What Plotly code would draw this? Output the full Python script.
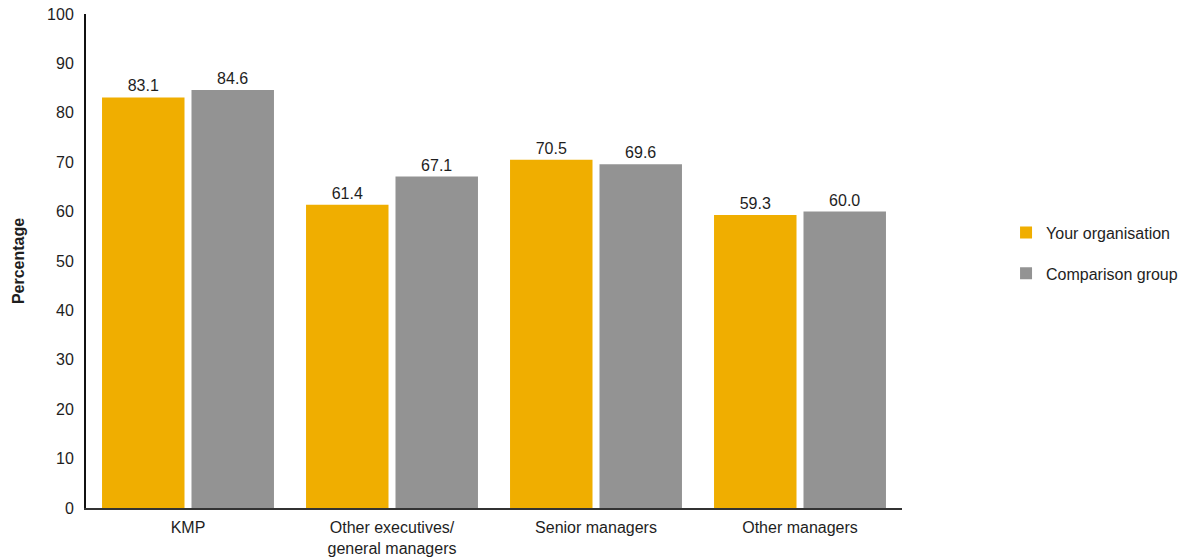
import plotly.graph_objects as go

# Share of employees by level: organisation vs comparison group
categories = ["KMP", "Other executives/<br>general managers", "Senior managers", "Other managers"]
your_org = [83.1, 61.4, 70.5, 59.3]
comparison = [84.6, 67.1, 69.6, 60.0]
y_ticks = [0, 10, 20, 30, 40, 50, 60, 70, 80, 90, 100]

YELLOW = "#F0AE00"
GREY = "#939393"
FONT = "Liberation Sans, Arial, sans-serif"
TXT = "#1e1e1e"
FS = 16

fig = go.Figure()
fig.add_trace(go.Bar(
    x=categories, y=your_org, name="Your organisation",
    marker=dict(color=YELLOW, line=dict(width=0)),
    text=[f"{v:.1f}" for v in your_org], textposition="outside",
    textfont=dict(family=FONT, size=FS, color=TXT),
    cliponaxis=False, legendgroup="a",
))
fig.add_trace(go.Bar(
    x=categories, y=comparison, name="Comparison group",
    marker=dict(color=GREY, line=dict(width=0)),
    text=[f"{v:.1f}" for v in comparison], textposition="outside",
    textfont=dict(family=FONT, size=FS, color=TXT),
    cliponaxis=False, legendgroup="b",
))

fig.update_layout(
    width=1200, height=558,
    margin=dict(l=86, r=298, t=14, b=50),
    paper_bgcolor="white", plot_bgcolor="white",
    barmode="group", bargap=0.123, bargroupgap=0.078,
    font=dict(family=FONT, size=FS, color=TXT),
    showlegend=True,
    legend=dict(
        x=1.1275, xanchor="left", y=0.516, yanchor="middle",
        font=dict(family=FONT, size=FS, color=TXT),
        tracegroupgap=17, bgcolor="rgba(0,0,0,0)",
    ),
    xaxis=dict(
        automargin=False,
        showline=True, linecolor="#333333", linewidth=2,
        ticks="", showgrid=False, zeroline=False,
        tickfont=dict(family=FONT, size=FS, color=TXT),
        ticklabelstandoff=4,
    ),
    yaxis=dict(
        automargin=False,
        range=[0, 100], tickvals=y_ticks,
        showline=True, linecolor="#111111", linewidth=2,
        ticks="", showgrid=False, zeroline=False,
        tickfont=dict(family=FONT, size=FS, color=TXT),
        ticklabelstandoff=7,
        title=dict(text="<b>Percentage</b>", font=dict(family=FONT, size=16, color=TXT), standoff=18),
    ),
)

fig.write_html("out.html")
